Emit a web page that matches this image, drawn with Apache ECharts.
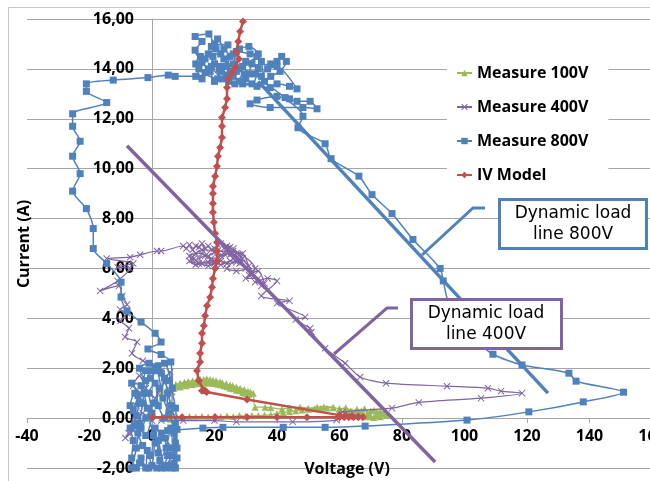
<!DOCTYPE html>
<html><head><meta charset="utf-8">
<script src="https://cdn.jsdelivr.net/npm/echarts@6/dist/echarts.min.js"></script>
<style>html,body{margin:0;padding:0;background:#fff}#c{width:650px;height:481px}</style>
</head><body><div id="c"></div>
<script>
// ---- Data (Voltage V, Current A) ----
const seriesNames = ['Measure 100V', 'Measure 400V', 'Measure 800V', 'IV Model'];
const xTicks = { min: -40, max: 160, step: 20 };
const yTicks = { min: -2, max: 16, step: 2 };

const measure100V = [
 [3,0.0],[6,-0.05],[8,0.05],[10,0.02],[12,0.06],[14,0.04],[16,0.07],[18,0.05],[20,0.08],[22,0.05],[24,0.08],[26,0.06],[28,0.1],[30,0.08],[32,0.1],
 [34,0.1],[36,0.12],[38,0.13],[40,0.18],[42,0.22],[44,0.26],[46,0.3],[48,0.33],[50,0.36],[52,0.38],[54,0.4],[56,0.41],[58,0.42],
 [60,0.38],[62,0.35],[63.5,0.3],[65,0.25],[66,0.2],[67,0.15],[68,0.1],[69,0.05],[70,0.08],[71,0.02],[72,0.12],[73,0.05],[74,0.15],[75,0.1],
 [74,0.2],[73,0.28],[72,0.25],[71,0.32],[70,0.3],[69,0.22],[68,0.38],[67,0.3],[65.6,0.36],[64,0.28],[62,0.42],[60,0.36],[58,0.44],
 [55,0.46],[52.8,0.44],[50,0.4],[47.4,0.44],[44,0.42],[41.6,0.36],[38,0.42],[36.2,0.44],[33,0.44],
 [32.4,1.0],[31.5,1.05],[30.7,1.08],[29.5,1.15],[28.2,1.2],[27,1.25],[25.8,1.3],[25,1.33],[23.8,1.38],[22.5,1.42],[21.8,1.46],[20.5,1.5],
 [19.5,1.52],[18.6,1.55],[17.5,1.58],[16.5,1.55],[15.4,1.56],[14.3,1.52],[13,1.5],[11.6,1.47],[10.4,1.44],[9,1.4],[7.6,1.35],[6.2,1.3],[4.7,1.15],
 [6,1.18],[8,1.28],[10,1.33],[12,1.38],[14,1.42],[16,1.45],[18,1.44],[20,1.4],[22,1.34],[24,1.26],[26,1.18],[28,1.1],[30,1.0],[31,0.95],
 [29,1.02],[27,1.12],[25,1.2],[23,1.3],[21,1.36],[19,1.4],[17,1.4],[15,1.38],[13,1.35],[11,1.3],[9,1.25],[7,1.2],[5,1.1],[3,1.0]
];

const measure400V = [
 [0,-0.1],[-3,0.2],[-6,-0.5],[-8.5,-0.8],[-7.5,-0.6],[-5,0.5],[-3.8,1.0],[-6,1.3],[-4,1.7],[-2,1.2],[1,0.8],[4,1.5],[5.8,1.85],[6.4,1.05],[6.4,0.25],[3,1.9],
 [-2.9,2.3],[-6.4,2.6],[-4.8,3.05],[-8.6,3.25],[-7.4,3.6],[-10,3.9],[-8,4.2],[-10.2,4.35],[-8,4.55],[-9.5,4.9],[-10.6,5.3],[-16.6,5.1],[-11,5.5],
 [-7,6.0],[-11,6.05],[-6,6.2],[-14.5,6.4],[-7,6.45],[-3.8,6.55],[1.6,6.7],[2.9,6.7],[10,6.9],
 [11,6.8],[12,6.95],[13,6.75],[14,6.9],[15,6.85],[16,7.0],[17,6.8],[18,6.9],[19,6.75],[20,6.8],[21,6.95],[22,7.0],[23,6.8],[24,6.9],[25,6.85],
 [24,6.6],[22,6.5],[20,6.65],[18,6.5],[16,6.6],[14,6.6],[12,6.5],[13,6.35],[15,6.4],[17,6.5],[19,6.4],[21,6.45],[23,6.6],[25,6.55],[26,6.4],
 [27,6.6],[26,6.8],[28,6.55],[29,6.4],[27,6.25],[24,6.2],[22,6.3],[20,6.2],[18,6.25],[16,6.2],[14,6.15],[12,6.3],[15,6.2],[19,6.3],[22,6.15],
 [25,6.3],[28,6.2],[30,6.0],[27,5.9],[24,6.0],[28,6.4],[32,5.8],[30,5.6],[34,5.6],[35,5.3],[31,6.1],[29,6.6],[21,6.7],[16,6.75],[13,6.45],
 [18,6.1],[26,6.7],[33,6.0],[31,5.75],[34,5.9],[36,5.4],[33,5.45],[37,5.6],[40,5.5],[35,4.9],[44,4.7],[40,4.6],[49,4.05],[46,3.95],[50.6,3.6],
 [51,3.45],[55.4,2.8],[61.8,2.2],
 [66.6,1.65],[74.9,1.4],[94.4,1.28],[107.5,1.2],[111.7,1.08],[118.4,1.0],[105.3,0.8],[85.4,0.63],[76.8,0.4],[61,0.24],[59,-0.08],[45,-0.15],
 [27,-0.15],[20,-0.1],[10,-0.1],[3,-0.1]
];

const measure800V = [
 [8,-0.45],[7.5,-1.0],[8,-1.6],[7.5,-2.0],[5.5,-1.9],[6,-1.2],[4,-0.8],[5,-1.5],[3,-2.0],[2,-1.4],[3,-0.6],[1,-1.0],[0,-1.9],[-1.5,-1.3],
 [-2,-2.0],[-3.5,-1.6],[-5,-2.0],[-6.5,-1.6],[-6,-0.9],[-7,-0.4],[-5,0.1],[-7,0.5],[-5.5,1.0],[-3,0.6],[-4,-0.2],[-2,-0.7],[0,0.2],[-1,1.0],
 [1,1.4],[2,0.5],[4,0.0],[5,1.0],[3,1.8],[0,1.9],[-2,1.5],[-4,2.0],[-1,2.2],[2,2.1],[4,1.6],[6,0.5],[7.5,-0.2],
 [7,-1.8],[6,-0.4],[4.5,-1.2],[2.5,-1.7],[1,-0.4],[-0.5,-1.5],[-3,-1.1],[-4.5,-0.6],[-6,0.3],[-4.5,0.9],[-6.5,1.4],[-3.5,1.3],[-1.5,0.4],
 [0.5,-0.7],[2,-0.9],[4,-1.9],[6.5,-1.5],[7,-0.6],[5.5,0.2],[3.5,0.8],[1.5,1.9],[-0.5,1.6],[-2.5,1.0],[-5,-1.2],[-6.5,-2.0],[-4,-1.8],
 [-1,-2.0],[1.5,-2.0],[4.5,-2.0],[6.5,-2.0],[8,-1.2],[7.5,0.4],[5,1.5],[2.5,1.2],[0.5,0.6],[-2,0.0],[-3.5,-0.4],[-5.5,-0.3],[-4,0.6],
 [-2,1.9],[1,2.0],[4,2.2],[6.5,1.2],[6,2.25],
 [2.9,2.55],[-1.3,2.77],[2.9,3.05],[1,3.4],[-3.5,3.85],[-8,4.3],[-9.9,4.85],[-9.9,5.45],[-14.5,6.2],[-18.8,6.8],[-18.8,7.6],[-21,8.4],
 [-25.4,9.1],[-23,9.8],[-25.4,10.5],[-23,11.1],[-25.4,11.7],[-25.4,12.2],[-14.5,12.65],[-21,13.1],[-21,13.4],[-12.4,13.55],[-1.3,13.65],
 [5.2,13.75],[7.4,13.7],[14,13.7],
 [18.6,13.9],[16,14.25],[13.8,14.75],[16,15.1],[13.8,15.3],[18.2,15.4],[20,15.0],[24.3,14.96],[22,14.6],[18,14.6],[20,14.2],[17,13.85],
 [21,13.6],[24,13.75],[22,14.1],[26,14.2],[27,14.7],[31.4,14.6],[33.6,14.5],[29,14.1],[31,13.8],[28,13.5],[25,13.9],[23,14.4],[20.5,14.8],
 [15,14.0],[17,14.4],[19,14.9],[21,15.2],[23,14.8],[25,14.5],[24,14.1],[26,13.7],[28,14.0],[30,13.6],[32,14.2],[34,14.6],[31,14.9],
 [28,14.8],[26,14.6],[22,13.9],[20,13.5],[18,14.0],[16,13.6],[14,14.2],[15.5,14.5],[19.5,14.5],[21.5,14.0],[24.5,13.5],[26.5,13.4],
 [29.5,13.8],[33,13.8],[35,14.3],[36,13.5],[38,13.7],[41,13.9],[43,14.3],[41.5,14.5],[38,14.2],
 [19,14.1],[23,13.6],[27,13.9],[30,14.3],[34,14.0],[32,13.4],[29,13.4],[33.6,13.3],[37.8,13.25],[40,13.4],[44,13.3],[46.4,13.2],[40,14.1],
 [37,14.0],[40,14.3],[35,13.7],[42.6,12.85],[44,12.8],[46.4,12.7],[50.6,12.7],[52.8,12.4],[48.3,12.45],[37.8,12.45],[31.4,12.6],[33.6,12.75],
 [40,12.9],[48.3,12.1],[46.7,11.64],[55.4,11.0],[57.3,10.4],[66.2,9.7],[70.4,8.96],[76.8,8.2],[83.5,7.16],[92.2,6.0],[93.2,5.5],[95,4.6],
 [103,3.2],[109.1,2.56],[118.4,2.13],[133.4,1.8],[135.7,1.48],[150.9,1.04],[138,0.65],[120.6,0.25],[100.8,-0.08],[68.2,-0.32],[55.4,-0.37],
 [42,-0.37],[22.7,-0.37],[16.3,-0.4],[5,-0.5]
];

const ivModel = [
 [0.3,0.03],[9.6,0.03],[20.2,0.03],[30.4,0.03],[40,0.03],[49.6,0.03],[60,0.03],[61.5,0.03],[63,0.03],[64.5,0.03],[66,0.03],[67.5,0.03],
 [66,0.06],[64,0.08],[62,0.1],[60,0.12],[30.4,0.75],[17.5,1.05],[17,1.1],[16.5,1.12],[16,1.1],[15,1.5],[14.4,1.9],[15.4,2.25],[15.4,2.6],
 [16,3.0],[16,3.4],[16.6,3.7],[17,4.1],[17.6,4.5],[18.6,4.85],[19.2,5.25],[19.5,5.6],[20.2,6.0],[20.8,6.3],[20.8,6.7],[20.8,7.05],[20.2,7.4],
 [19.8,7.85],[19.5,8.25],[19.5,8.6],[19.5,9.0],[19.5,9.3],[20.2,9.7],[20.8,10.1],[21.1,10.5],[21.8,10.85],[22.4,11.25],[22.4,11.7],
 [22.4,12.05],[23.4,12.45],[24,12.8],[24,13.25],[24.4,13.6],[25.6,13.85],[26.6,14.05],[27.8,14.4],[27,14.7],[27.6,15.1],[28.2,15.5],[29.1,15.9]
];

const loadLine800V = [[34,13.5],[126.7,1.0]];
const loadLine400V = [[-8,10.92],[90.6,-1.76]];

const annotation800 = 'Dynamic load\nline 800V';
const annotation400 = 'Dynamic load\nline 400V';

// ---- Chart ----
const BLUE = '#4F81BD', PURPLE = '#8064A2', GREEN = '#9BBB59', RED = '#C0504D';
const FONT = 'Open Sans';
const XSYM = 'path://M1,0L5,4L9,0L10,1L6,5L10,9L9,10L5,6L1,10L0,9L4,5L0,1Z';
const GRID = { left: 27, right: -2, top: 19, bottom: 13 };
const W = 650, H = 481;
const plotW = W - GRID.left - GRID.right, plotH = H - GRID.top - GRID.bottom;
const yAxisShift = plotW * (0 - xTicks.min) / (xTicks.max - xTicks.min);
const xAxisShift = plotH * (0 - yTicks.min) / (yTicks.max - yTicks.min);

const chart = echarts.init(document.getElementById('c'), null, { renderer: 'canvas', width: W, height: H });

function lineSeries(name, data, color, symbol, size, width, z) {
  return {
    name, type: 'line', data, symbol, symbolSize: size, smooth: 0.25,
    lineStyle: { color, width }, itemStyle: { color }, z, animation: false
  };
}

chart.setOption({
  animation: false,
  grid: Object.assign({ containLabel: false, outerBoundsMode: 'none' }, GRID),
  xAxis: {
    type: 'value', min: xTicks.min, max: xTicks.max, interval: xTicks.step,
    position: 'bottom', offset: -xAxisShift,
    axisLine: { onZero: false, lineStyle: { color: '#a6a6a6', width: 1 } },
    axisTick: { show: true, length: 5, lineStyle: { color: '#a6a6a6' } },
    splitLine: { show: false },
    axisLabel: { color: '#000', fontFamily: FONT, fontWeight: 'bold', fontSize: 16, margin: 10 }
  },
  yAxis: {
    type: 'value', min: yTicks.min, max: yTicks.max, interval: yTicks.step,
    position: 'left', offset: -yAxisShift,
    axisLine: { onZero: false, lineStyle: { color: '#a6a6a6', width: 1 } },
    axisTick: { show: false },
    splitLine: { show: true, lineStyle: { color: '#a6a6a6', width: 1 } },
    axisLabel: { color: '#000', fontFamily: FONT, fontWeight: 'bold', fontSize: 16, margin: 18,
      formatter: v => v.toFixed(2).replace('.', ',') }
  },
  legend: {
    orient: 'vertical', left: 447, top: 57, itemWidth: 15, itemHeight: 8, itemGap: 18,
    padding: [8, 20, 10, 9], backgroundColor: '#fff',
    data: seriesNames,
    textStyle: { color: '#000', fontFamily: FONT, fontWeight: 'bold', fontSize: 16 }
  },
  series: [
    lineSeries(seriesNames[0], measure100V, GREEN, 'triangle', 7, 1.2, 2),
    lineSeries(seriesNames[1], measure400V, PURPLE, XSYM, 7, 1.2, 3),
    lineSeries(seriesNames[2], measure800V, BLUE, 'rect', 7, 1.5, 4),
    Object.assign(lineSeries(seriesNames[3], ivModel, RED, 'diamond', 8, 2.5, 5), { smooth: false }),
    { type: 'line', data: loadLine400V, symbol: 'none', lineStyle: { color: PURPLE, width: 3.5 }, z: 6, silent: true },
    { type: 'line', data: loadLine800V, symbol: 'none', lineStyle: { color: BLUE, width: 3.5 }, z: 6, silent: true }
  ],
  graphic: [
    { type: 'rect', shape: { x: 8.5, y: 7.5, width: 700, height: 500 }, style: { fill: 'none', stroke: '#c8c8c8', lineWidth: 1 }, z: 0, silent: true },
    { type: 'text', x: 24, y: 244, rotation: Math.PI / 2, style: { text: 'Current (A)', fill: '#000', font: 'bold 16px "Open Sans"', textAlign: 'center', textVerticalAlign: 'middle' }, z: 10 },
    { type: 'text', x: 347, y: 469, style: { text: 'Voltage (V)', fill: '#000', font: 'bold 16px "Open Sans"', textAlign: 'center', textVerticalAlign: 'middle' }, z: 10 },
    { type: 'polyline', shape: { points: [[485, 208], [473, 208], [422, 255]] }, style: { stroke: BLUE, lineWidth: 3, fill: 'none' }, z: 20 },
    { type: 'rect', shape: { x: 499.5, y: 199.5, width: 147, height: 49 }, style: { fill: '#fff', stroke: BLUE, lineWidth: 3 }, z: 20 },
    { type: 'text', x: 573, y: 224, style: { text: annotation800, fill: '#000', font: '17px "DejaVu Sans"', lineHeight: 21, textAlign: 'center', textVerticalAlign: 'middle' }, z: 21 },
    { type: 'polyline', shape: { points: [[398, 308], [387, 308], [334, 354]] }, style: { stroke: PURPLE, lineWidth: 3, fill: 'none' }, z: 20 },
    { type: 'rect', shape: { x: 411.5, y: 299.5, width: 150, height: 49 }, style: { fill: '#fff', stroke: PURPLE, lineWidth: 3 }, z: 20 },
    { type: 'text', x: 486, y: 324, style: { text: annotation400, fill: '#000', font: '17px "DejaVu Sans"', lineHeight: 21, textAlign: 'center', textVerticalAlign: 'middle' }, z: 21 }
  ]
});
</script></body></html>
